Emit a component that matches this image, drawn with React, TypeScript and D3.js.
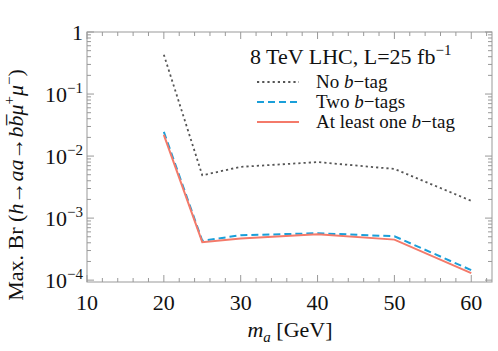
import React from "react";
import * as d3 from "d3";

const masses = [20, 25, 30, 40, 50, 60];
const noBTag = [0.43, 0.0049, 0.0067, 0.008, 0.0062, 0.0019];
const twoBTags = [0.0245, 0.00043, 0.00053, 0.00057, 0.00051, 0.000145];
const atLeastOne = [0.022, 0.00041, 0.00047, 0.00055, 0.00045, 0.00013];
const xTickValues = [10, 20, 30, 40, 50, 60];
const yTickExps = [-4, -3, -2, -1, 0];

const W = 498, H = 351;
const L = 87, R = 492, T = 32, B = 282;
const FONT = "'Liberation Serif', 'DejaVu Serif', serif";
const FRAME = "#999";

export default function App() {
  const x = d3.scaleLinear().domain([10, 62.7]).range([L, R]);
  const y = d3.scaleLog().domain([Math.pow(10, -4.03), 1]).range([B, T]);
  const line = d3.line<[number, number]>().x(d => x(d[0])).y(d => y(d[1]));
  const mk = (vals: number[]) => line(masses.map((m, i) => [m, vals[i]] as [number, number])) || "";

  const xMinor: number[] = [];
  for (let v = 10; v <= 62; v += 2) if (v % 10 !== 0) xMinor.push(v);
  const yMinor: number[] = [];
  for (let e = -5; e <= 0; e++) for (let k = 2; k <= 9; k++) {
    const v = k * Math.pow(10, e);
    if (v >= Math.pow(10, -4.03) && v <= 1) yMinor.push(v);
  }

  const series = [
    { name: "No", vals: noBTag, color: "#555", dash: "2.2 3", width: 1.8 },
    { name: "Two", vals: twoBTags, color: "#1a9fd9", dash: "7 4", width: 2 },
    { name: "One", vals: atLeastOne, color: "#f47a6a", dash: "", width: 2 },
  ];

  return (
    <svg width={W} height={H} style={{ position: "absolute", left: 0, top: 0 }} fontFamily={FONT}>
      <rect x={0} y={0} width={W} height={H} fill="#fff" />
      <rect x={L} y={T} width={R - L} height={B - T} fill="none" stroke={FRAME} strokeWidth={1} />
      {xTickValues.map(v => (
        <g key={"xt" + v}>
          <line x1={x(v)} x2={x(v)} y1={B} y2={B - 7} stroke={FRAME} />
          <line x1={x(v)} x2={x(v)} y1={T} y2={T + 7} stroke={FRAME} />
          <text x={x(v)} y={310} fontSize={22} textAnchor="middle" fill="#111">{v}</text>
        </g>
      ))}
      {xMinor.map(v => (
        <g key={"xm" + v}>
          <line x1={x(v)} x2={x(v)} y1={B} y2={B - 4} stroke={FRAME} />
          <line x1={x(v)} x2={x(v)} y1={T} y2={T + 4} stroke={FRAME} />
        </g>
      ))}
      {yTickExps.map(e => (
        <g key={"yt" + e}>
          <line x1={L} x2={L + 7} y1={y(Math.pow(10, e))} y2={y(Math.pow(10, e))} stroke={FRAME} />
          <line x1={R} x2={R - 7} y1={y(Math.pow(10, e))} y2={y(Math.pow(10, e))} stroke={FRAME} />
          {e === 0 ? (
            <text x={83} y={y(1) + 8} fontSize={22} textAnchor="end" fill="#111">1</text>
          ) : (
            <text x={83} y={y(Math.pow(10, e)) + 8} fontSize={22} textAnchor="end" fill="#111">
              10<tspan fontSize={15} dy={-9}>{"\u2212" + (-e)}</tspan>
            </text>
          )}
        </g>
      ))}
      {yMinor.map((v, i) => (
        <g key={"ym" + i}>
          <line x1={L} x2={L + 4} y1={y(v)} y2={y(v)} stroke={FRAME} />
          <line x1={R} x2={R - 4} y1={y(v)} y2={y(v)} stroke={FRAME} />
        </g>
      ))}
      {series.map(s => (
        <path key={s.name} d={mk(s.vals)} fill="none" stroke={s.color} strokeWidth={s.width}
          strokeDasharray={s.dash || undefined} />
      ))}
      <text x={250} y={64} fontSize={22} fill="#111">
        8 TeV LHC, L=25 fb<tspan fontSize={15} dy={-9}>{"\u22121"}</tspan>
      </text>
      {series.map((s, i) => (
        <line key={"lg" + s.name} x1={257} x2={299} y1={82 + 20 * i} y2={82 + 20 * i}
          stroke={s.color} strokeWidth={s.width} strokeDasharray={s.dash || undefined} />
      ))}
      <text x={316} y={88} fontSize={19} fill="#111">No <tspan fontStyle="italic">b</tspan>{"\u2212tag"}</text>
      <text x={316} y={108} fontSize={19} fill="#111">Two <tspan fontStyle="italic">b</tspan>{"\u2212tags"}</text>
      <text x={316} y={128} fontSize={19} fill="#111">At least one <tspan fontStyle="italic">b</tspan>{"\u2212tag"}</text>
      <text x={290} y={337} fontSize={22} textAnchor="middle" fill="#111">
        <tspan fontStyle="italic">m</tspan><tspan fontStyle="italic" fontSize={15} dy={5}>a</tspan>
        <tspan dy={-5}>{" [GeV]"}</tspan>
      </text>
      <text transform={`translate(23,185) rotate(-90)`} fontSize={22} textAnchor="middle" fill="#111">
        {"Max. Br ("}<tspan fontStyle="italic">h</tspan>{"\u2192"}<tspan fontStyle="italic">aa</tspan>{"\u2192"}
        <tspan fontStyle="italic">b</tspan><tspan fontStyle="italic">{"b\u0305"}</tspan>
        <tspan fontStyle="italic">{"\u03bc"}</tspan><tspan fontSize={15} dy={-9}>+</tspan>
        <tspan fontStyle="italic" dy={9}>{"\u03bc"}</tspan><tspan fontSize={15} dy={-9}>{"\u2212"}</tspan>
        <tspan dy={9}>)</tspan>
      </text>
    </svg>
  );
}
